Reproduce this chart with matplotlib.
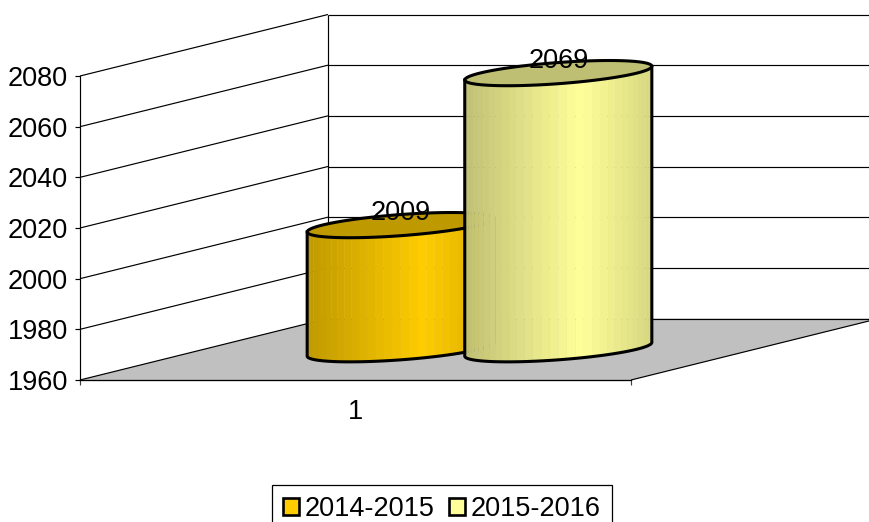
import numpy as np
import matplotlib
matplotlib.use("Agg")
import matplotlib.pyplot as plt
from matplotlib.patches import Patch, Polygon

plt.rcParams['font.family'] = ['Liberation Sans', 'DejaVu Sans']

categories = ['1']
series_names = ['2014-2015', '2015-2016']
series_values = [2009, 2069]
y_ticks = [1960, 1980, 2000, 2020, 2040, 2060, 2080]
base_colors = ['#FFCC00', '#FFFF99']

W, H = 869, 522
fig = plt.figure(figsize=(W / 100, H / 100), dpi=100)
L, R, B, T = 80, 631, 380, 76
ax = fig.add_axes([L / W, 1 - B / H, (R - L) / W, (B - T) / H])
ax.set_xlim(0, 1)
ax.set_ylim(y_ticks[0], y_ticks[-1])
ax.patch.set_alpha(0)

# oblique depth: one unit of depth moves right and up
DX = 248 / (R - L)
DV = 61.5 / ((B - T) / (y_ticks[-1] - y_ticks[0]))
FS = 19.5


def proj(x, v, d):
    return np.asarray(x) + np.asarray(d) * DX, np.asarray(v) + np.asarray(d) * DV


def line(p, q, **kw):
    xa, va = proj(*p)
    xb, vb = proj(*q)
    ax.plot([xa, xb], [va, vb], clip_on=False, solid_capstyle='butt',
            **{'color': 'black', 'lw': 0.85, 'zorder': 2, **kw})


y0, y1 = y_ticks[0], y_ticks[-1]

# floor
fl = np.array([proj(0, y0, 0), proj(1, y0, 0), proj(1, y0, 1), proj(0, y0, 1)])
ax.add_patch(Polygon(fl, closed=True, fc='#C0C0C0', ec='none', clip_on=False, zorder=1))

# walls and gridlines
for v in y_ticks:
    line((0, v, 0), (0, v, 1))
    line((0, v, 1), (1.1, v, 1))
line((0, y0, 1), (0, y1, 1))
line((1, y0, 0), (1, y0, 1))
line((0, y0, 0), (1, y0, 0), color='#404040')

# cylinders
centers = [0.357, 0.643]
RX, RD = 0.1425, 0.205
DEPTH = 0.5
phase = np.arctan2(RD * DX, RX)   # angle of the left/right silhouette
N = 34


def ring(xc, v, t):
    return proj(xc + RX * np.cos(t), v, DEPTH + RD * np.sin(t))


def shade(color, f):
    rgb = np.array(matplotlib.colors.to_rgb(color))
    peak = 0.62
    k = 0.75 + 0.25 * f / peak if f < peak else 1 - 0.16 * (f - peak) / (1 - peak)
    return rgb * k


for i, (name, val, col, xc) in enumerate(zip(series_names, series_values, base_colors, centers)):
    z = 5 + i
    edges = np.linspace(np.pi + phase, 2 * np.pi + phase, N + 1)[::-1]
    xl = ring(xc, y0, edges[-1])[0]
    xr = ring(xc, y0, edges[0])[0]
    for a, b in zip(edges[:-1], edges[1:]):
        ts = np.linspace(a, b, 5)
        xs, vs = ring(xc, y0, ts)
        xt, vt = ring(xc, val, ts[::-1])
        f = (0.5 * (xs[0] + xs[-1]) - xl) / (xr - xl)
        c = shade(col, f)
        ax.fill(np.r_[xs, xt], np.r_[vs, vt], fc=c, ec=c, lw=0.3, clip_on=False, zorder=z)
    # top ellipse
    t = np.linspace(0, 2 * np.pi, 200)
    xe, ve = ring(xc, val, t)
    ax.fill(xe, ve, fc=np.array(matplotlib.colors.to_rgb(col)) * 0.75, ec='black',
            lw=2.2, clip_on=False, zorder=z + 0.1)
    # outline
    ts = np.linspace(edges[0], edges[-1], 100)
    xs, vs = ring(xc, y0, ts)
    xa, va = ring(xc, val, edges[0])
    xb, vb = ring(xc, val, edges[-1])
    ax.plot(np.r_[xa, xs, xb], np.r_[va, vs, vb], color='black', lw=2.2,
            clip_on=False, zorder=z + 0.2, solid_joinstyle='round')

# data labels
for val, xc in zip(series_values, centers):
    ax.annotate(str(val), proj(xc, val, DEPTH), xytext=(0, 8.5), textcoords='offset points',
                ha='center', va='center', fontsize=FS, color='black', zorder=20,
                annotation_clip=False)

# axes
for s in ['top', 'right']:
    ax.spines[s].set_visible(False)
for s in ['left', 'bottom']:
    ax.spines[s].set_linewidth(0.85)
    ax.spines[s].set_zorder(3)
ax.set_yticks(y_ticks)
ax.tick_params(axis='y', length=3.6, width=0.85, pad=5, labelsize=FS)
ax.set_xticks([0, 1])
ax.set_xticklabels(['', ''])
ax.tick_params(axis='x', length=3.6, width=0.85, color='#404040')
ax.set_xticks([0.5], labels=categories, minor=True)
ax.tick_params(axis='x', which='minor', length=0, pad=13.5, labelsize=FS)

# legend, cut off by the bottom of the figure
handles = [Patch(fc=c, ec='black', lw=1.9) for c in base_colors]
leg = fig.legend(handles, series_names, ncols=2, loc='upper left',
                 bbox_to_anchor=(272 / W, 1 - 485 / H), bbox_transform=fig.transFigure,
                 fontsize=FS, frameon=True, fancybox=False, framealpha=1, edgecolor='black',
                 borderaxespad=0, borderpad=0.4, handlelength=0.58, handleheight=0.58,
                 handletextpad=0.22, columnspacing=0.55)
leg.get_frame().set_linewidth(0.9)

fig.savefig('out.png', dpi=100)
